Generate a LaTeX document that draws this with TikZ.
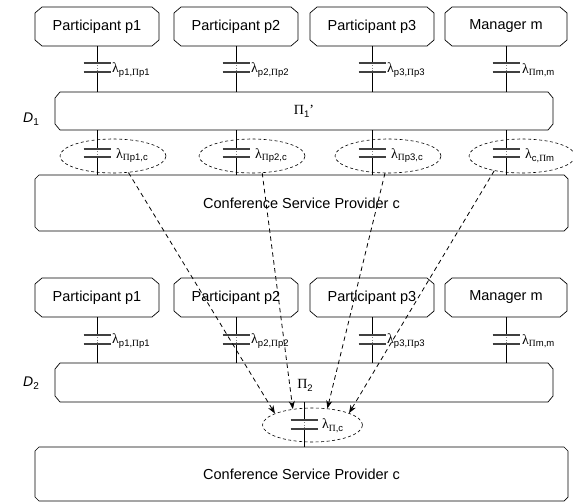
\documentclass[tikz,border=0pt]{standalone}
\usepackage{fontspec}
\setmainfont{Liberation Sans}
\newfontfamily\serifgr{Liberation Serif}
\usetikzlibrary{shapes.geometric,arrows.meta}

\newcommand{\PiS}{{\serifgr Π}}
\newcommand{\lamlab}[1]{{\serifgr\fontsize{14}{14}\selectfont λ}\raisebox{-2.5pt}{\fontsize{9.5}{10}\selectfont #1}}
\newcommand{\chamfbox}[3]{%
  \draw[boxline] ([xshift=#2]#1.north west) -- ([xshift=-#2]#1.north east)
    -- ([yshift=-#3]#1.north east) -- ([yshift=#3]#1.south east)
    -- ([xshift=-#2]#1.south east) -- ([xshift=#2]#1.south west)
    -- ([yshift=#3]#1.south west) -- ([yshift=-#3]#1.north west) -- cycle;}

\tikzset{
  boxline/.style={line width=0.7pt, line join=miter},
  boxbase/.style={rectangle, inner sep=0pt, outer sep=0pt,
    font=\fontsize{14.5}{15}\selectfont},
  pbox/.style={boxbase, minimum width=124pt, minimum height=39pt},
  dbox/.style={boxbase, minimum width=498pt, minimum height=38pt},
  cbox/.style={boxbase, minimum width=533pt, minimum height=56pt},
  conn/.style={line width=0.7pt},
  gapline/.style={gray, line width=0.4pt, dotted},
  plate/.style={line width=1.1pt, black!75},
  lab/.style={inner sep=0pt, anchor=west},
  oval/.style={draw, ellipse, dash pattern=on 3pt off 2.5pt, line width=0.6pt,
    inner sep=0pt},
  flow/.style={dash pattern=on 4.5pt off 3.5pt, line width=0.8pt,
    -{Stealth[length=8pt,width=6pt]}},
  dlab/.style={inner sep=0pt, font=\fontsize{14}{14}\selectfont}
}

\begin{document}
\begin{tikzpicture}[x=1pt,y=-1pt]
\useasboundingbox (0,0) rectangle (573,503);

% ---------- upper diagram ----------
\node[pbox] (p1) at (97,26.5) {Participant p1};
\node[pbox] (p2) at (236,26.5) {Participant p2};
\node[pbox] (p3) at (372,26.5) {Participant p3};
\node[pbox, minimum width=122pt] (p4) at (506,26.5) {Manager m};

\node[dbox] (d1) at (304,111) {};
\node[dlab] (pi1) at (304,111) {{\serifgr Π}\raisebox{-3pt}{\fontsize{9.5}{10}\selectfont 1}{\serifgr ’}};
\node[dlab] (dn1) at (31,119) {\textit{D}\raisebox{-3pt}{\fontsize{10}{10}\selectfont 1}};

\node[cbox] (c1) at (301.5,203) {Conference Service Provider c};

% ---------- lower diagram ----------
\node[pbox] (q1) at (97,297.5) {Participant p1};
\node[pbox] (q2) at (236,297.5) {Participant p2};
\node[pbox] (q3) at (372,297.5) {Participant p3};
\node[pbox, minimum width=122pt] (q4) at (506,297.5) {Manager m};

\node[dbox, minimum height=39pt] (d2) at (304,382.5) {};
\node[dlab] (pi2) at (305,385) {{\serifgr Π}\raisebox{-3pt}{\fontsize{9.5}{10}\selectfont 2}};
\node[dlab] (dn2) at (31,383) {\textit{D}\raisebox{-3pt}{\fontsize{10}{10}\selectfont 2}};

\node[cbox, minimum height=54pt] (c2) at (301.5,474) {Conference Service Provider c};

% box outlines with chamfered corners
\foreach \n in {p1,p2,p3,p4,q1,q2,q3,q4} {\chamfbox{\n}{7pt}{6pt}}
\foreach \n in {d1,d2} {\chamfbox{\n}{5pt}{6pt}}
\foreach \n in {c1,c2} {\chamfbox{\n}{4pt}{4pt}}

% ---------- upper connectors ----------
\foreach \i/\x in {1/97,2/236,3/372,4/506} {
  \coordinate (ta\i) at (\x,63);
  \coordinate (tb\i) at (\x,72);
  \draw[conn] (p\i) -- (ta\i);
  \draw[gapline] (ta\i) -- (tb\i);
  \draw[conn] (tb\i) -- (tb\i |- d1.north);
  \draw[plate] ([xshift=-13.5pt]ta\i) -- ([xshift=13.5pt]ta\i);
  \draw[plate] ([xshift=-13.5pt]tb\i) -- ([xshift=13.5pt]tb\i);
  \node[oval, minimum width=106pt, minimum height=34pt] (e\i) at (\x+16,156) {};
  \coordinate (ea\i) at (\x,149);
  \coordinate (eb\i) at (\x,157);
  \draw[conn] (ea\i |- d1.south) -- (ea\i);
  \draw[gapline] (ea\i) -- (eb\i);
  \draw[conn] (eb\i) -- (eb\i |- c1.north);
  \draw[plate] ([xshift=-13.5pt]ea\i) -- ([xshift=13.5pt]ea\i);
  \draw[plate] ([xshift=-13.5pt]eb\i) -- ([xshift=13.5pt]eb\i);
}

\node[lab] (l1) at (112,70) {\lamlab{p1,\PiS p1}};
\node[lab] (l2) at (251,70) {\lamlab{p2,\PiS p2}};
\node[lab] (l3) at (387,70) {\lamlab{p3,\PiS p3}};
\node[lab] (l4) at (522,70) {\lamlab{\PiS m,m}};

\node[lab] (m1) at (116,155.5) {\lamlab{\PiS p1,c}};
\node[lab] (m2) at (255,155.5) {\lamlab{\PiS p2,c}};
\node[lab] (m3) at (391,155.5) {\lamlab{\PiS p3,c}};
\node[lab] (m4) at (525,155.5) {\lamlab{c,\PiS m}};

% ---------- lower connectors ----------
\foreach \i/\x in {1/97,2/236,3/372,4/506} {
  \coordinate (sa\i) at (\x,335);
  \coordinate (sb\i) at (\x,344);
  \draw[conn] (q\i) -- (sa\i);
  \draw[gapline] (sa\i) -- (sb\i);
  \draw[conn] (sb\i) -- (sb\i |- d2.north);
  \draw[plate] ([xshift=-13.5pt]sa\i) -- ([xshift=13.5pt]sa\i);
  \draw[plate] ([xshift=-13.5pt]sb\i) -- ([xshift=13.5pt]sb\i);
}

\node[lab] (k1) at (112,341) {\lamlab{p1,\PiS p1}};
\node[lab] (k2) at (251,341) {\lamlab{p2,\PiS p2}};
\node[lab] (k3) at (387,341) {\lamlab{p3,\PiS p3}};
\node[lab] (k4) at (522,341) {\lamlab{\PiS m,m}};

\node[oval, minimum width=100pt, minimum height=34pt] (eb) at (312.5,425) {};
\coordinate (ba) at (d2.south |- 0,420);
\coordinate (bb) at (d2.south |- 0,429);
\draw[conn] (d2.south) -- (ba);
\draw[gapline] (ba) -- (bb);
\draw[conn] (bb) -- (bb |- c2.north);
\draw[plate] ([xshift=-13.5pt]ba) -- ([xshift=13.5pt]ba);
\draw[plate] ([xshift=-13.5pt]bb) -- ([xshift=13.5pt]bb);
\node[lab] (kb) at (322,425.5) {\lamlab{\PiS,c}};

% ---------- dashed flows ----------
\draw[flow] (e1.-47) -- (eb.163);
\draw[flow] (e2.-59) -- (eb.141);
\draw[flow] (e3.-100) -- (eb.48);
\draw[flow] (e4.-152) -- (eb.18);
\end{tikzpicture}
\end{document}
